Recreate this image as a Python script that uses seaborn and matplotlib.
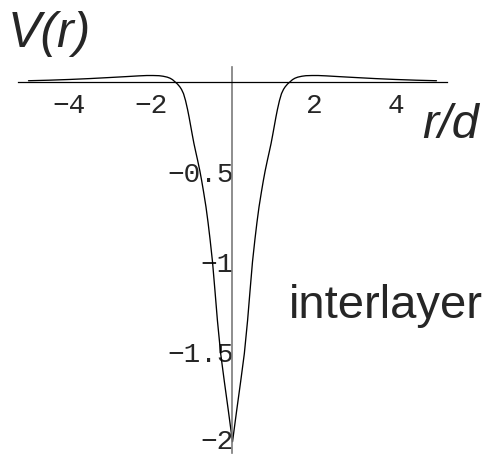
import matplotlib
matplotlib.use("Agg")
import matplotlib.pyplot as plt
import matplotlib.transforms as mtransforms
import numpy as np
import pandas as pd
import seaborn as sns
from matplotlib.ticker import MultipleLocator

# Interlayer potential V(r) against r/d
r_values = [
    -5.0, -4.5, -4.0, -3.5, -3.0, -2.6, -2.3, -2.1, -1.95, -1.8, -1.7, -1.6,
    -1.53, -1.47, -1.41, -1.35, -1.29, -1.25, -1.2, -1.15, -1.1, -1.065,
    -1.025, -0.985, -0.945, -0.9, -0.855, -0.8, -0.755, -0.71, -0.65, -0.6,
    -0.55, -0.49, -0.43, -0.37, -0.29, -0.2, -0.1, 0.0,
    0.1, 0.2, 0.29, 0.37, 0.43, 0.49, 0.55, 0.6, 0.65, 0.71, 0.755, 0.8,
    0.855, 0.9, 0.945, 0.985, 1.025, 1.065, 1.1, 1.15, 1.2, 1.25, 1.29, 1.35,
    1.41, 1.47, 1.53, 1.6, 1.7, 1.8, 1.95, 2.1, 2.3, 2.6, 3.0, 3.5, 4.0, 4.5,
    5.0,
]
v_values = [
    0.006, 0.009, 0.013, 0.018, 0.024, 0.029, 0.033, 0.035, 0.035, 0.034,
    0.031, 0.026, 0.020, 0.012, 0.0, -0.012, -0.028, -0.042, -0.066, -0.105,
    -0.155, -0.195, -0.245, -0.295, -0.343, -0.39, -0.436, -0.495, -0.55,
    -0.61, -0.695, -0.78, -0.875, -1.0, -1.16, -1.325, -1.51, -1.665, -1.83,
    -2.0,
    -1.83, -1.665, -1.51, -1.325, -1.16, -1.0, -0.875, -0.78, -0.695, -0.61,
    -0.55, -0.495, -0.436, -0.39, -0.343, -0.295, -0.245, -0.195, -0.155,
    -0.105, -0.066, -0.042, -0.028, -0.012, 0.0, 0.012, 0.020, 0.026, 0.031,
    0.034, 0.035, 0.035, 0.033, 0.029, 0.024, 0.018, 0.013, 0.009, 0.006,
]

x_ticks = [-4, -2, 2, 4]
x_tick_labels = ["\u22124", "\u22122", "2", "4"]
y_ticks = [-2.0, -1.5, -1.0, -0.5]
y_tick_labels = ["\u22122", "\u22121.5", "\u22121", "\u22120.5"]

df = pd.DataFrame({"r": r_values, "V": v_values})

sns.set_style("white")
plt.rcParams["font.family"] = ["Liberation Sans", "DejaVu Sans"]

W, H = 501, 455
fig = plt.figure(figsize=(W / 100, H / 100), dpi=100)

# axes box in pixels: x from 18.3 to 446.7, y from 66.7 (top) to 452.6
x0_px, x1_px = 18.3, 446.7
y0_px, y1_px = 66.7, 452.6
ax = fig.add_axes([x0_px / W, 1 - y1_px / H, (x1_px - x0_px) / W, (y1_px - y0_px) / H])
ax.set_facecolor("none")

sns.lineplot(data=df, x="r", y="V", color="black", linewidth=0.95, ax=ax,
             estimator=None, sort=False)

ax.set_xlim(-5.25, 5.25)
ax.set_ylim(-2.06, 0.084)
ax.set_xlabel("")
ax.set_ylabel("")

for s in ("top", "right"):
    ax.spines[s].set_visible(False)
ax.spines["left"].set_position(("data", 0))
ax.spines["bottom"].set_position(("data", 0))
ax.spines["left"].set_color("#7a7a7a")
ax.spines["left"].set_linewidth(1.2)
ax.spines["bottom"].set_color("black")
ax.spines["bottom"].set_linewidth(0.9)

ax.set_xticks(x_ticks)
ax.set_xticklabels(x_tick_labels)
ax.set_yticks(y_ticks)
ax.set_yticklabels(y_tick_labels)
ax.xaxis.set_minor_locator(MultipleLocator(0.5))
ax.yaxis.set_minor_locator(MultipleLocator(0.1))

ax.tick_params(axis="both", which="major", labelsize=20,
               labelfontfamily="Liberation Mono")
ax.tick_params(axis="x", which="major", direction="in", length=3.5, width=0.7,
               color="black", pad=8)
ax.tick_params(axis="x", which="minor", direction="in", length=2.2, width=0.6,
               color="black")
ax.tick_params(axis="y", which="major", direction="in", length=3.5, width=0.7,
               color="black", pad=-1)
ax.tick_params(axis="y", which="minor", direction="in", length=2.2, width=0.6,
               color="black")

# keep the lowest y label inside the figure
lowest = ax.yaxis.get_major_ticks()[0].label1
lowest.set_transform(lowest.get_transform() +
                     mtransforms.ScaledTranslation(0, 3 / 100, fig.dpi_scale_trans))

# axis titles and annotation
fig.text(8 / W, 1 - 46.7 / H, "V(r)", fontsize=36, style="italic",
         ha="left", va="baseline")
fig.text(422 / W, 1 - 138 / H, "r/d", fontsize=35, style="italic",
         ha="left", va="baseline")
fig.text(289 / W, 1 - 318.3 / H, "interlayer", fontsize=34,
         ha="left", va="baseline")

fig.savefig("out.png", dpi=100)
